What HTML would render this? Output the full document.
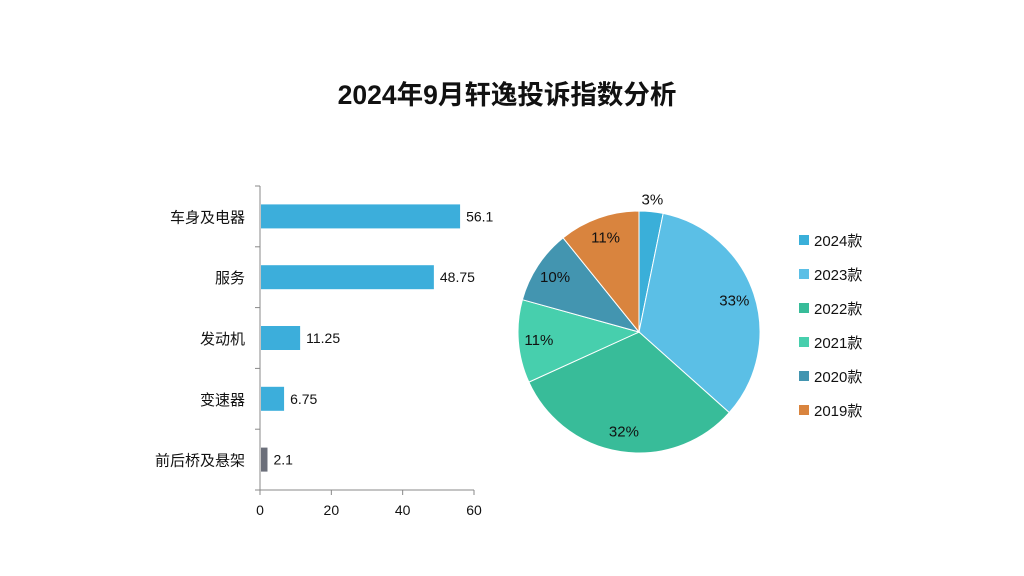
<!DOCTYPE html>
<html><head><meta charset="utf-8"><style>
body{margin:0;background:#fff;}
svg text{font-family:"Liberation Sans","Noto Sans CJK SC",sans-serif;fill:#111;}
</style></head><body>
<svg width="1024" height="571" viewBox="0 0 1024 571">
<text x="507" y="104" text-anchor="middle" font-size="26.5" font-weight="bold">2024年9月轩逸投诉指数分析</text>
<g id="bar"></g>
<g id="pie"></g>
<g id="legend"></g>
</svg>
<script>
const barCats=["车身及电器","服务","发动机","变速器","前后桥及悬架"];
const barVals=[56.1,48.75,11.25,6.75,2.1];
const barLabels=["56.1","48.75","11.25","6.75","2.1"];
const xTicks=[0,20,40,60];
const pieCats=["2024款","2023款","2022款","2021款","2020款","2019款"];
const pieVals=[3.2,33.4,31.6,11.1,9.9,10.8];
const pieLabels=["3%","33%","32%","11%","10%","11%"];

const NS="http://www.w3.org/2000/svg";
function mk(t,a,p){const e=document.createElementNS(NS,t);for(const k in a)e.setAttribute(k,a[k]);p.appendChild(e);return e;}
const bar=document.getElementById('bar');
const x0=260,x1=474,yTop=186,yBot=490,xMax=60;
const xs=v=>x0+v/xMax*(x1-x0);
const band=(yBot-yTop)/barCats.length;
let ax=mk('line',{x1:x0,y1:yTop,x2:x0,y2:yBot,stroke:'#888','stroke-width':1},bar);


let ax2=mk('line',{x1:x0,y1:yBot,x2:x1,y2:yBot,stroke:'#888','stroke-width':1},bar);


for(let i=0;i<=barCats.length;i++){const y=yTop+i*band;const t=mk('line',{x1:x0-5,y1:y,x2:x0,y2:y,stroke:'#888'},bar);

}
xTicks.forEach(v=>{const x=xs(v);const t=mk('line',{x1:x,y1:yBot,x2:x,y2:yBot+5,stroke:'#888'},bar);


const l=mk('text',{x:x,y:yBot+25,'text-anchor':'middle','font-size':14},bar);l.textContent=v;

});
barCats.forEach((c,i)=>{const cy=yTop+band*(i+0.5);const v=barVals[i];
const r=mk('rect',{x:x0+1,y:cy-12,width:xs(v)-x0-1,height:24,fill:i==4?'#6b6f7a':'#3caedb'},bar);


const l=mk('text',{x:xs(v)+6,y:cy+5,'font-size':14},bar);l.textContent=barLabels[i];


const c2=mk('text',{x:x0-15,y:cy+6,'text-anchor':'end','font-size':15},bar);c2.textContent=c;

});

const pie=document.getElementById('pie');
const cx=639,cy=332,R=121;
const cols=['#3aafd9','#5bbfe6','#38bc99','#47cfad','#4395b0','#d9843e'];
const tot=pieVals.reduce((a,b)=>a+b,0);
let acc=0;
pieVals.forEach((v,i)=>{const a0=acc/tot*2*Math.PI;acc+=v;const a1=acc/tot*2*Math.PI;
const p=(a)=>[cx+R*Math.sin(a),cy-R*Math.cos(a)];const [ax_,ay]=p(a0),[bx,by]=p(a1);
const s=mk('path',{d:`M${cx},${cy}L${ax_},${ay}A${R},${R} 0 ${a1-a0>Math.PI?1:0} 1 ${bx},${by}Z`,fill:cols[i],stroke:'#fff','stroke-width':1},pie);


const am=(a0+a1)/2;const rr=i==0?R+12:R*0.83;
const l=mk('text',{x:cx+rr*Math.sin(am),y:cy-rr*Math.cos(am)+5,'text-anchor':'middle','font-size':15},pie);l.textContent=pieLabels[i];

});

const lg=document.getElementById('legend');
pieCats.forEach((c,i)=>{const y=240+i*34;
const r=mk('rect',{x:799,y:y-5,width:10,height:10,fill:cols[i]},lg);


const t=mk('text',{x:814,y:y+6,'font-size':15},lg);t.textContent=c;

});
</script>
</body></html>
